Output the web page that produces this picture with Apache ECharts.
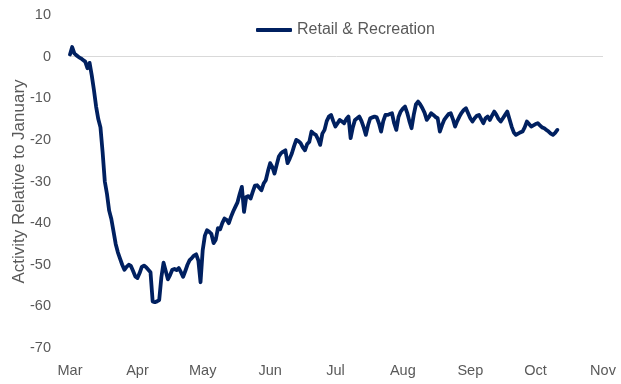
<!DOCTYPE html>
<html>
<head>
<meta charset="utf-8">
<script src="https://cdn.jsdelivr.net/npm/echarts@6/dist/echarts.min.js"></script>
<style>
  html, body { margin: 0; padding: 0; background: #fff; }
  #chart { width: 621px; height: 384px; }
</style>
</head>
<body>
<div id="chart"></div>
<script>
// Month labels and their lengths (Mar 1 .. Nov 1)
var monthNames = ['Mar', 'Apr', 'May', 'Jun', 'Jul', 'Aug', 'Sep', 'Oct', 'Nov'];
var monthDays  = [31, 30, 31, 30, 31, 31, 30, 31, 1];

// Y axis range and ticks
var yTicks = { min: -70, max: 10, interval: 10 };

// Daily retail & recreation activity, starting Mar 1
var retailRecreation = [
  0.5, 2.3, 0.8, 0.3, -0.1, -0.4, -0.8, -1.2, -2.8, -1.5,
  -4.5, -8, -12, -15, -17, -23, -30, -33, -37, -39,
  -42, -45, -47, -48.5, -50, -51.2, -50.5, -50, -50.3, -51.5,
  -52.8,
  // Apr
  -53.2, -52, -50.5, -50.2, -50.6, -51.2, -51.8, -58.8, -59, -58.8,
  -58.5, -53, -49.5, -51.5, -53.5, -52.5, -51.2, -51, -51.3, -50.8,
  -51.8, -52.9, -51.5, -50, -48.9, -48.4, -47.8, -47.5, -49, -54.2,
  // May
  -46.5, -43, -41.7, -42.1, -42.6, -44.8, -44, -41.2, -41.5, -40,
  -38.9, -39.2, -40, -38.5, -37.2, -36.1, -35, -33, -31.3, -37.3,
  -33.7, -33.5, -34.1, -32.5, -31, -30.9, -31.5, -32.1, -30.5, -29.7,
  -27.5,
  // Jun
  -25.6, -26.5, -28.1, -26, -24, -23.2, -22.8, -22.5, -25.6, -24.5,
  -23.2, -21.5, -20, -20.3, -20.8, -21.8, -22.5, -21, -20.5, -18,
  -18.5, -18.8, -19.8, -21.2, -18.5, -17.6, -15.5, -14.4, -14, -15.5,
  // Jul
  -16.8, -16, -15.2, -15.6, -16, -15, -14.4, -19.6, -17, -15.2,
  -14.8, -14.4, -15.5, -17, -18.8, -16.5, -14.8, -14.6, -14.4, -14.6,
  -16, -18, -15.5, -14, -14, -13.8, -13.6, -16, -17.6, -14.5,
  -13.2,
  // Aug
  -12.5, -12, -13.5, -15.5, -17.2, -14, -11.5, -10.8, -11.5, -12.4,
  -13.5, -15.2, -14.5, -13.6, -14, -14.5, -14.8, -18, -16.5, -15.2,
  -14.5, -13.8, -13.6, -15, -16.8, -15.5, -14.4, -13.5, -12.8, -12.4,
  -13.6,
  // Sep
  -14.8, -15.6, -14.8, -14.2, -14, -15, -16, -14.8, -14.4, -15.2,
  -14.2, -13.2, -14, -15, -15.6, -14.8, -14, -13.2, -15, -16.8,
  -18.2, -18.8, -18.5, -18.2, -18, -17, -15.6, -16.2, -16.8, -16.5,
  // Oct
  -16.2, -16, -16.5, -17, -17.2, -17.6, -18, -18.5, -18.8, -18.3,
  -17.6
];

// Build the daily category list ("Mar 1", "Mar 2", ...)
var dates = [];
monthNames.forEach(function (m, i) {
  for (var d = 1; d <= monthDays[i]; d++) dates.push(m + ' ' + d);
});

var textColor = '#595959';
var lineColor = '#002060';
var fontFamily = '"Liberation Sans", Arial, sans-serif';

var chart = echarts.init(document.getElementById('chart'), null, { renderer: 'canvas' });
chart.setOption({
  animation: false,
  textStyle: { fontFamily: fontFamily },
  legend: {
    top: 17,
    left: 251,
    icon: 'roundRect',
    itemWidth: 36,
    itemHeight: 4,
    itemGap: 8,
    textStyle: { color: textColor, fontSize: 16, fontFamily: fontFamily },
    data: ['Retail & Recreation']
  },
  grid: {
    left: 70, right: 18, top: 15, bottom: 36,
    containLabel: false,
    outerBoundsMode: 'none'
  },
  xAxis: {
    type: 'category',
    data: dates,
    boundaryGap: false,
    axisLine: { show: false, onZero: false },
    axisTick: { show: false },
    splitLine: { show: false },
    axisLabel: {
      color: textColor,
      fontSize: 14.5,
      margin: 15,
      interval: function (idx, val) { return /\s1$/.test(val); },
      formatter: function (val) { return val.split(' ')[0]; }
    }
  },
  yAxis: {
    type: 'value',
    min: yTicks.min,
    max: yTicks.max,
    interval: yTicks.interval,
    name: 'Activity Relative to January',
    nameLocation: 'middle',
    nameGap: 42,
    nameMoveOverlap: false,
    nameTextStyle: { color: textColor, fontSize: 17 },
    axisLine: { show: false },
    axisTick: { show: false },
    splitLine: { show: false },
    axisLabel: { color: textColor, fontSize: 14.5, margin: 19 }
  },
  series: [{
    name: 'Retail & Recreation',
    type: 'line',
    data: retailRecreation,
    symbol: 'none',
    smooth: false,
    lineStyle: { color: lineColor, width: 3.8, cap: 'round', join: 'round' },
    itemStyle: { color: lineColor },
    z: 3,
    markLine: {
      silent: true,
      symbol: 'none',
      label: { show: false },
      lineStyle: { color: '#d9d9d9', width: 1, type: 'solid' },
      data: [{ yAxis: 0 }],
      z: 1
    }
  }]
});
</script>
</body>
</html>
